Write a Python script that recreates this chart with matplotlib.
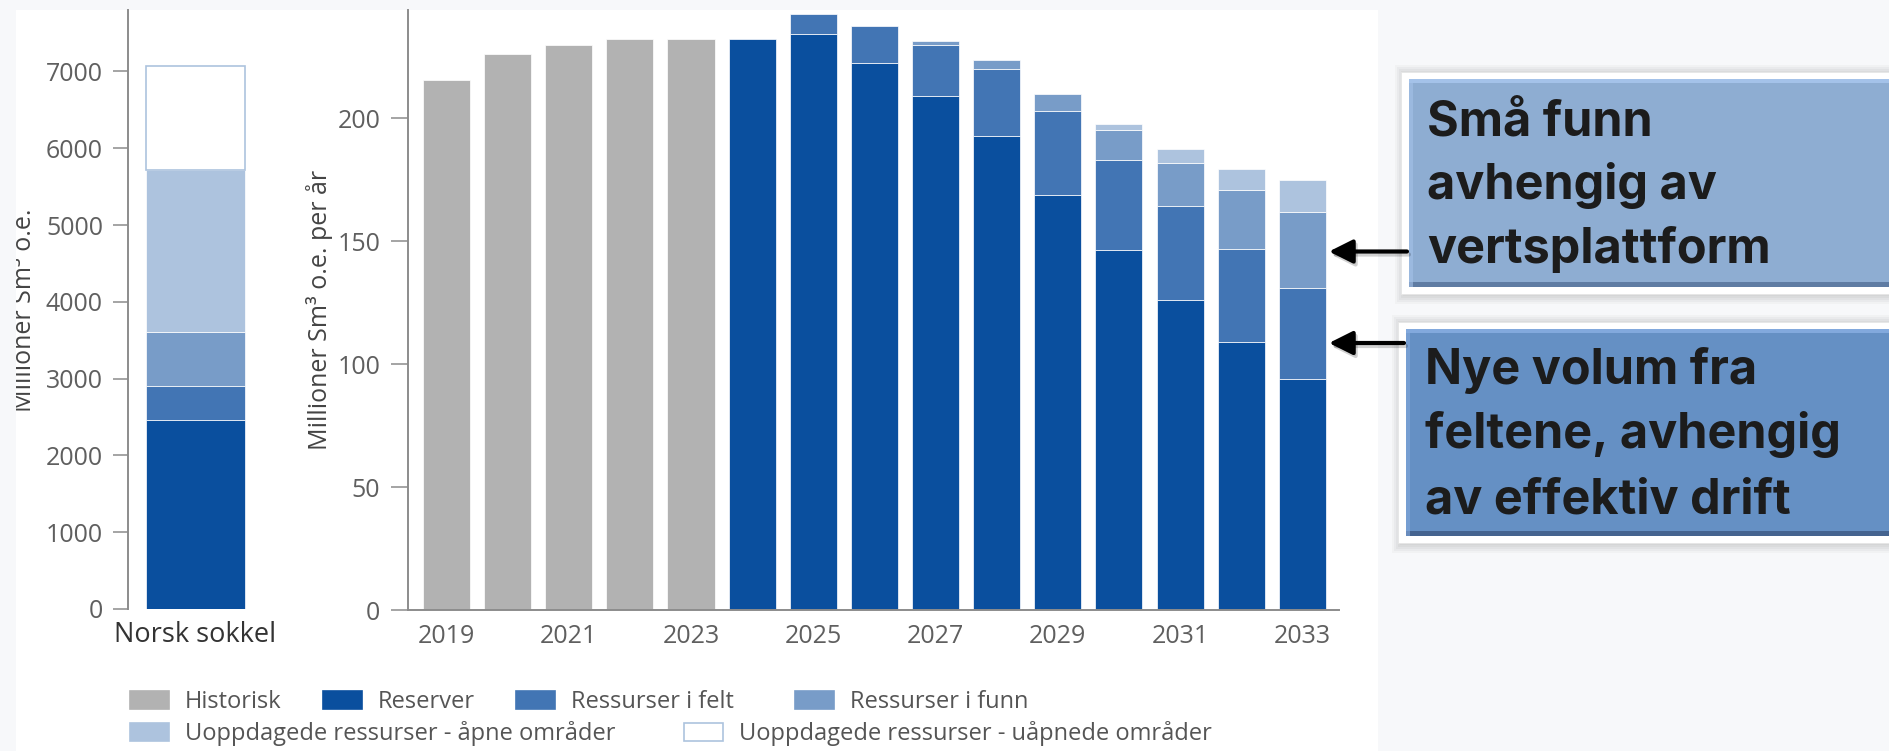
import numpy as np
import matplotlib
matplotlib.use('Agg')
import matplotlib.pyplot as plt
from matplotlib.patches import Rectangle, FancyArrowPatch, Patch
from matplotlib.transforms import Bbox, TransformedBbox

plt.rcParams['font.family'] = ['Open Sans', 'DejaVu Sans']

# ---------------- data ----------------
years = np.arange(2019, 2034)
historisk = np.array([215.5, 226.3, 229.9, 232.1, 232.4, 0, 0, 0, 0, 0, 0, 0, 0, 0, 0])
reserver = np.array([0, 0, 0, 0, 0, 232.2, 234.1, 222.5, 209.1, 192.7, 168.6, 146.3, 126.1, 109.1, 93.9])
felt = np.array([0, 0, 0, 0, 0, 0, 8.2, 15.0, 20.7, 27.2, 34.4, 36.9, 38.1, 37.8, 37.0])
funn = np.array([0, 0, 0, 0, 0, 0, 0, 0, 1.4, 3.7, 7.0, 11.9, 17.4, 23.8, 30.8])
apne = np.array([0, 0, 0, 0, 0, 0, 0, 0, 0, 0, 0, 2.7, 5.8, 8.6, 13.0])

sokkel_label = ['Norsk sokkel']
sokkel_reserver = [2467]
sokkel_felt = [443]
sokkel_funn = [700]
sokkel_apne = [2105]
sokkel_uapne = [1355]

series_names = ['Historisk', 'Reserver', 'Ressurser i felt', 'Ressurser i funn',
                'Uoppdagede ressurser - åpne områder',
                'Uoppdagede ressurser - uåpnede områder']
colors = ['#b2b2b2', '#0a4f9e', '#4275b4', '#789cc8', '#adc3de', '#ffffff']

xticks_years = [2019, 2021, 2023, 2025, 2027, 2029, 2031, 2033]
yticks_left = [0, 1000, 2000, 3000, 4000, 5000, 6000, 7000]
yticks_right = [0, 50, 100, 150, 200]

box1_lines = ['Små funn', 'avhengig av', 'vertsplattform']
box2_lines = ['Nye volum fra', 'feltene, avhengig', 'av effektiv drift']

# ---------------- figure ----------------
W, H = 1890, 751
fig = plt.figure(figsize=(W / 100, H / 100), dpi=100, facecolor='#f7f8fa')


def fx(px):
    return px / W


def fy(py):
    return 1 - py / H


panel = Rectangle((fx(16), 0), fx(1378) - fx(16), fy(10), transform=fig.transFigure,
                  facecolor='white', edgecolor='none', zorder=-5)
fig.add_artist(panel)

spine_c = '#8c8c8c'
tick_c = '#5f5f5f'

# ---- left panel ----
axL = fig.add_axes([fx(128), fy(609), fx(263) - fx(128), fy(10) - fy(609)])
axL.set_facecolor('none')
xl = np.arange(len(sokkel_label))
bottom = np.zeros(len(xl))
for vals, c in zip([sokkel_reserver, sokkel_felt, sokkel_funn, sokkel_apne, sokkel_uapne],
                   colors[1:]):
    ec = '#adc3de' if c == '#ffffff' else 'white'
    lw = 1.2 if c == '#ffffff' else 0.5
    axL.bar(xl, vals, bottom=bottom, width=0.733, color=c, edgecolor=ec, linewidth=lw)
    bottom = bottom + np.array(vals)
axL.set_xlim(-0.5, 0.5)
axL.set_ylim(0, 7800)
axL.set_yticks(yticks_left)
axL.set_xticks(xl)
axL.set_xticklabels(sokkel_label)
for s in ['top', 'right', 'bottom']:
    axL.spines[s].set_visible(False)
axL.spines['left'].set_color(spine_c)
axL.spines['left'].set_linewidth(1.4)
axL.tick_params(axis='y', length=11, width=1.1, color=spine_c, pad=7, labelsize=18, labelcolor=tick_c)
axL.tick_params(axis='x', length=0, pad=9, labelsize=19.5, labelcolor='#333333')

lab = fig.text(fx(31), fy(310), 'Millioner Sm³ o.e.', rotation=90, ha='center', va='baseline',
               rotation_mode='anchor', fontsize=18, color='#444444')
lab.set_clip_box(TransformedBbox(Bbox([[fx(16), 0], [fx(1378), fy(10)]]), fig.transFigure))
lab.set_clip_on(True)

# ---- right panel ----
axR = fig.add_axes([fx(408), fy(610), fx(1339) - fx(408), fy(10) - fy(610)])
axR.set_facecolor('none')
bottom = np.zeros(len(years))
for vals, c in zip([historisk, reserver, felt, funn, apne], colors[:5]):
    m = vals > 0
    axR.bar(years[m], vals[m], bottom=bottom[m], width=0.77, color=c, edgecolor='white', linewidth=0.5)
    bottom = bottom + vals
axR.set_xlim(2018.37, 2033.6)
axR.set_ylim(0, 244)
axR.set_xticks(xticks_years)
axR.set_yticks(yticks_right)
for s in ['top', 'right']:
    axR.spines[s].set_visible(False)
for s in ['left', 'bottom']:
    axR.spines[s].set_color(spine_c)
    axR.spines[s].set_linewidth(1.4)
axR.tick_params(axis='y', length=12, width=1.1, color=spine_c, pad=8, labelsize=18, labelcolor=tick_c)
axR.tick_params(axis='x', length=0, pad=10, labelsize=18, labelcolor=tick_c)
fig.text(fx(327), fy(310), 'Millioner Sm³ o.e. per år', rotation=90, ha='center', va='baseline',
         rotation_mode='anchor', fontsize=18, color='#444444')

# ---- legend (flow layout, one entry per legend) ----
handles = []
for c in colors:
    ec = '#adc3de' if c == '#ffffff' else c
    handles.append(Patch(facecolor=c, edgecolor=ec, linewidth=1.2))
common = dict(loc='center left', frameon=False, fontsize=17, handlelength=1.65, handleheight=0.8,
              handletextpad=0.68, borderpad=0, borderaxespad=0, labelcolor='#555555')
legend_pos = [(130, 702), (323, 702), (516, 702), (795, 702), (130, 734), (684, 734)]
for h, name, (lx, ly) in zip(handles, series_names, legend_pos):
    fig.legend([h], [name], bbox_to_anchor=(fx(lx), fy(ly)), **common)


# ---- annotation boxes ----
def draw_box(x0, y0, y1, face, top, bot):
    for i, a in enumerate([0.05, 0.05, 0.05, 0.05, 0.04]):
        d = 1 + i * 2
        fig.add_artist(Rectangle((fx(x0 - 8 - d + 3), fy(y1 + 8 + d)), fx(W + 20) - fx(x0),
                                 fy(y0 - 8 - d + 3) - fy(y1 + 8 + d), transform=fig.transFigure,
                                 facecolor='#606060', alpha=a, edgecolor='none', zorder=1))
    fig.add_artist(Rectangle((fx(x0 - 8), fy(y1 + 7)), fx(W + 20) - fx(x0 - 8), fy(y0 - 7) - fy(y1 + 7),
                             transform=fig.transFigure, facecolor='white', edgecolor='#e6e6e6',
                             linewidth=0.6, zorder=2))
    fig.add_artist(Rectangle((fx(x0), fy(y1)), fx(W + 20) - fx(x0), fy(y0) - fy(y1),
                             transform=fig.transFigure, facecolor=face, edgecolor='none', zorder=3))
    fig.add_artist(Rectangle((fx(x0), fy(y0 + 4)), fx(W + 20) - fx(x0), fy(y0) - fy(y0 + 4),
                             transform=fig.transFigure, facecolor=top, edgecolor='none', zorder=4))
    fig.add_artist(Rectangle((fx(x0), fy(y1)), fx(W + 20) - fx(x0), fy(y1 - 5) - fy(y1),
                             transform=fig.transFigure, facecolor=bot, edgecolor='none', zorder=4))
    fig.add_artist(Rectangle((fx(x0), fy(y1)), fx(x0 + 4) - fx(x0), fy(y0) - fy(y1),
                             transform=fig.transFigure, facecolor=top, alpha=0.6, edgecolor='none', zorder=4))


draw_box(1409, 79, 287, '#8eadd2', '#a4c2e9', '#5f7ca3')
draw_box(1406, 329, 536, '#6590c4', '#82a9dd', '#44638f')

for line, yb in zip(box1_lines, [136, 199, 263]):
    fig.text(fx(1427), fy(yb), line, ha='left', va='baseline', fontsize=35, fontweight='bold',
             family=['Inter', 'DejaVu Sans'], color='#1c1c1c', zorder=6)
for line, yb in zip(box2_lines, [384, 448, 513]):
    fig.text(fx(1425), fy(yb), line, ha='left', va='baseline', fontsize=35, fontweight='bold',
             family=['Inter', 'DejaVu Sans'], color='#1c1c1c', zorder=6)

# ---- arrows ----
for (xa, ya) in [(1407, 251.5), (1404, 343)]:
    sh = FancyArrowPatch((fx(xa + 2), fy(ya + 3)), (fx(1331), fy(ya + 3)), transform=fig.transFigure,
                         arrowstyle='-|>,head_length=0.8,head_width=0.4', mutation_scale=18,
                         lw=3, color='#000000', alpha=0.18, shrinkA=0, shrinkB=0, zorder=6)
    fig.add_artist(sh)
    ar = FancyArrowPatch((fx(xa), fy(ya)), (fx(1329), fy(ya)), transform=fig.transFigure,
                         arrowstyle='-|>,head_length=0.8,head_width=0.4', mutation_scale=18,
                         lw=3, color='black', shrinkA=0, shrinkB=0, zorder=7)
    fig.add_artist(ar)

fig.savefig('out.png', dpi=100, facecolor=fig.get_facecolor())
